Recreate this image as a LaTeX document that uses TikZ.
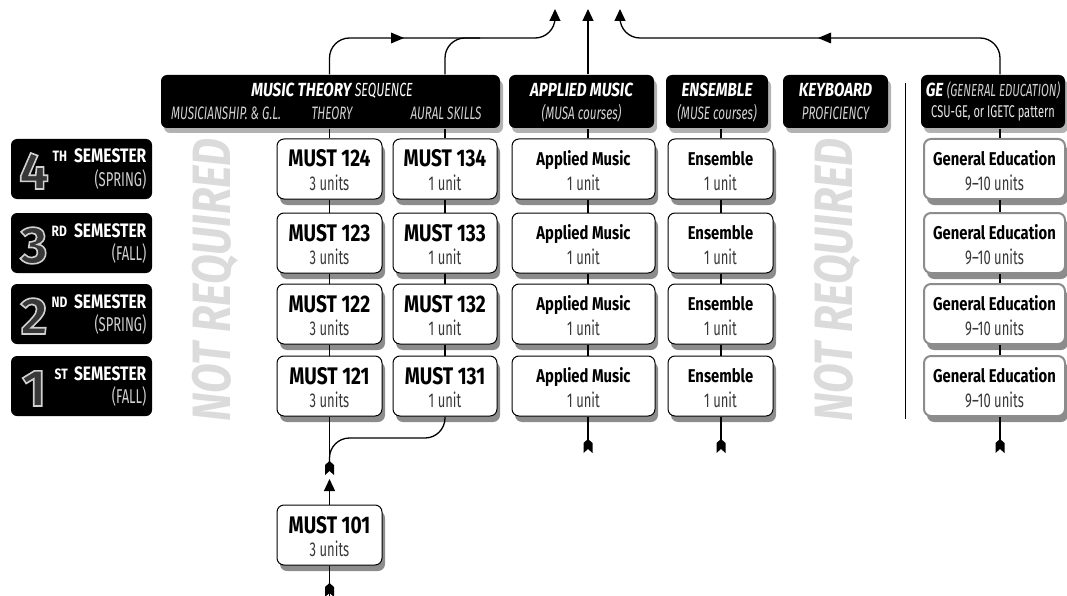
\documentclass[tikz,border=0pt]{standalone}
\usepackage{fontspec}
\setmainfont{Fira Sans}[FakeStretch=0.8]
\newfontfamily\narrowfont{Fira Sans}[FakeStretch=0.65,Ligatures=TeX]
\newfontfamily\numfont{Fira Sans}
\usetikzlibrary{shadows,arrows.meta}
\definecolor{lgray}{gray}{0.82}
\definecolor{dgray}{gray}{0.22}
\definecolor{nrgray}{gray}{0.86}
\definecolor{gebord}{gray}{0.55}
\newcommand\fsz[2]{\fontsize{#1}{#2}\selectfont}
\newcommand\outl[1]{\special{pdf:literal direct 0.22 g 2 Tr 1.6 w}#1\special{pdf:literal direct 0 Tr}}
% name, x, y, width, title, subtitle, box style, title style
\newcommand\course[8]{%
  \node[#7, minimum width=#4] (#1) at (#2,#3) {};
  \node[#8, anchor=base] (#1t) at (#2,#3) {#5};
  \node[csub, anchor=base] (#1s) at (#2,#3+21) {#6};
}
\tikzset{
  hdr/.style={fill=black, rounded corners=6pt, minimum height=53pt, inner sep=0pt,
    drop shadow={shadow xshift=3pt,shadow yshift=-5pt,fill=black,opacity=0.3}},
  sem/.style={fill=black, rounded corners=6pt, minimum width=141pt, minimum height=60pt, inner sep=0pt},
  course/.style={draw=black, line width=1pt, fill=white, rounded corners=7pt, minimum height=60pt,
    inner sep=0pt,
    drop shadow={shadow xshift=3pt,shadow yshift=-6pt,fill=black,opacity=0.45}},
  gecourse/.style={course, draw=gebord, line width=2pt},
  mtitle/.style={inner sep=0pt, font=\fsz{24}{26}\bfseries, yshift=2pt},
  atitle/.style={inner sep=0pt, font=\fsz{18.5}{22}\bfseries, yshift=4pt},
  csub/.style={inner sep=0pt, font=\narrowfont\fsz{20}{22}, text=dgray},
  tx/.style={inner sep=0pt, text=white},
  semnum/.style={tx, font=\numfont\fsz{52}{56}\bfseries, text=lgray},
  semsup/.style={tx, font=\fsz{15}{17}\bfseries},
  semtxt/.style={tx, font=\fsz{19.5}{22}\bfseries},
  semsub/.style={tx, font=\narrowfont\fsz{20}{22}, text=lgray},
  htitle/.style={tx, font=\fsz{19}{22}\bfseries\itshape},
  hsub/.style={tx, font=\narrowfont\fsz{18}{20}\itshape, text=lgray},
  notreq/.style={inner sep=0pt, text=nrgray, font=\fsz{54}{60}\bfseries\itshape},
  fletch/.pic={\fill (0,-7) -- (4.5,-3) -- (4.5,7) -- (0,3) -- (-4.5,7) -- (-4.5,-3) -- cycle;},
  midtri/.pic={\fill (-6,-5.5) -- (7,0) -- (-6,5.5) -- cycle;},
  tip/.style={-{Triangle[length=12pt,width=11pt]}}
}
\begin{document}
\begin{tikzpicture}[x=1pt,y=-1pt,line width=1.3pt]
\useasboundingbox (0,0) rectangle (1067,596);

% semester labels
\foreach \c/\n/\s/\t/\sx in {169/4/TH/SPRING/52, 243/3/RD/FALL/51, 314/2/ND/SPRING/51, 386/1/ST/FALL/54}{
  \node[sem] (s\n) at (81.5,\c) {};
  \node[semnum,anchor=base] (s\n num) at (34,\c+20) {\outl{\n}};
  \node[semsup,anchor=base west] (s\n sup) at (\sx,\c-7) {\s};
  \node[semtxt,anchor=base east] (s\n txt) at (147,\c-6) {SEMESTER};
  \node[semsub,anchor=base east] (s\n sub) at (147,\c+17) {(\t)};
}

% headers
\node[hdr, minimum width=339pt] (mt) at (330.5,101.5) {};
\node[hdr, minimum width=145pt] (am) at (581.5,101.5) {};
\node[hdr, minimum width=102pt] (en) at (717,101.5) {};
\node[hdr, minimum width=105pt] (kb) at (835.5,101.5) {};
\node[hdr, minimum width=144pt] (ge) at (993,101.5) {};

\node[htitle,anchor=base] (mtT) at (332,97) {MUSIC THEORY {\narrowfont\mdseries SEQUENCE}};
\node[hsub,anchor=base] (mtA) at (226,120) {MUSICIANSHIP. \& G.L.};
\node[hsub,anchor=base] (mtB) at (332,120) {THEORY};
\node[hsub,anchor=base] (mtC) at (446,120) {AURAL SKILLS};
\node[htitle,anchor=base] (amT) at (581.5,97) {APPLIED MUSIC};
\node[hsub,anchor=base] (amS) at (581.5,120) {(MUSA courses)};
\node[htitle,anchor=base] (enT) at (717,97) {ENSEMBLE};
\node[hsub,anchor=base] (enS) at (717,120) {(MUSE courses)};
\node[htitle,anchor=base] (kbT) at (835.5,97) {KEYBOARD};
\node[hsub,anchor=base] (kbS) at (835.5,120) {PROFICIENCY};
\node[htitle,anchor=base] (geT) at (993,97) {GE {\narrowfont\mdseries\fsz{17.5}{20}\color{lgray}(GENERAL EDUCATION)}};
\node[tx,anchor=base,font=\narrowfont\fsz{17}{20},text=lgray!50!white] (geS) at (993,118) {CSU-GE, or IGETC pattern};

% not required
\node[notreq,rotate=90] (nr1) at (215,280) {NOT REQUIRED};
\node[notreq,rotate=90] (nr2) at (837,280) {NOT REQUIRED};

% courses
\foreach \c/\r in {169/4, 243/3, 314/2, 386/1}{
  \course{m12\r}{329.5}{\c}{105pt}{MUST 12\r}{3 units}{course}{mtitle}
  \course{m13\r}{445}{\c}{104pt}{MUST 13\r}{1 unit}{course}{mtitle}
  \course{ap\r}{583.5}{\c}{143pt}{Applied Music}{1 unit}{course}{atitle}
  \course{es\r}{720.5}{\c}{105pt}{Ensemble}{1 unit}{course}{atitle}
  \course{gc\r}{994.5}{\c}{141pt}{General Education}{9–10 units}{gecourse}{atitle}
}
\course{m101}{329.5}{535}{105pt}{MUST 101}{3 units}{course}{mtitle}

% coordinates
\coordinate (bar) at (0,38);
\coordinate (tipL) at (555,9);
\coordinate (tipM) at (588,9);
\coordinate (tipR) at (620,9);
\coordinate (fT) at (329.5,468);
\coordinate (fB) at (329.5,590);
\coordinate (fA) at (588,446);
\coordinate (fE) at (721,446);
\coordinate (fG) at (1000,446);
\coordinate (join) at (329.5,438);
\coordinate (merge) at (480,38);
\coordinate (arr101) at (329.5,479);
\coordinate (sepT) at (905,83);
\coordinate (sepB) at (905,419);
\coordinate (bot) at (329.5,596);

% vertical connectors between boxes
\foreach \col/\hd/\dx in {m12/mt/0, m13/mt/0, ap/am/4.5, es/en/0.5, gc/ge/5.5}{
  \draw ([xshift=\dx pt]\col4.north |- \hd.south) -- ([xshift=\dx pt]\col4.north);
  \draw ([xshift=\dx pt]\col4.south) -- ([xshift=\dx pt]\col3.north);
  \draw ([xshift=\dx pt]\col3.south) -- ([xshift=\dx pt]\col2.north);
  \draw ([xshift=\dx pt]\col2.south) -- ([xshift=\dx pt]\col1.north);
}
\draw (m121.south) -- (fT);
\draw[rounded corners=20pt] (m131.south) |- (join) -- (fT);
\draw ([xshift=4.5pt]ap1.south) -- (fA);
\draw ([xshift=0.5pt]es1.south) -- (fE);
\draw (fG |- gc1.south) -- (fG);
\draw[tip] (m101.north) -- (arr101);
\draw (m101.south) -- (bot);

% top connectors
\draw[rounded corners=20pt,tip] (m124.north |- mt.north) |- (tipL |- bar) -- (tipL);
\draw[rounded corners=20pt] (m134.north |- mt.north) |- (merge);
\draw[tip] (tipM |- am.north) -- (tipM);
\draw[rounded corners=20pt,tip] (fG |- ge.north) |- (tipR |- bar) -- (tipR);
\pic at (397,38) {midtri};
\pic[rotate=180] at (825,38) {midtri};

% fletchings
\pic at (fT) {fletch};
\pic at (fB) {fletch};
\pic at (fA) {fletch};
\pic at (fE) {fletch};
\pic at (fG) {fletch};

% separator
\draw[line width=0.8pt] (sepT) -- (sepB);
\end{tikzpicture}
\end{document}
